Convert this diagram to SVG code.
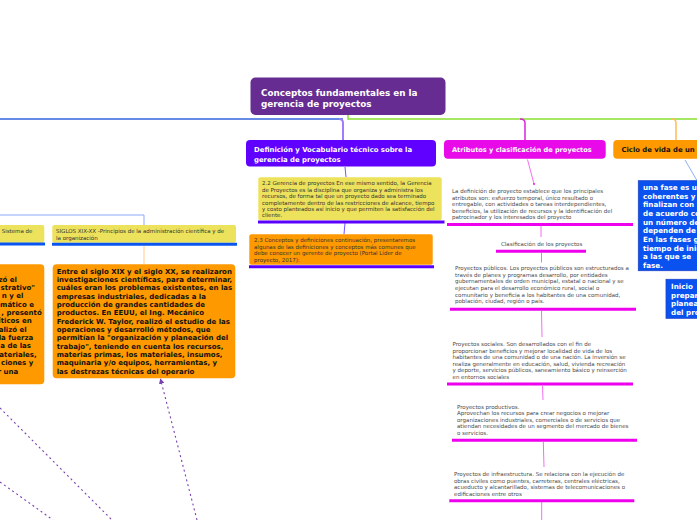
<svg xmlns="http://www.w3.org/2000/svg" width="697" height="520" viewBox="0 0 697 520">
<style>
text{font-family:"DejaVu Sans","Verdana",sans-serif}
.tb{font-weight:bold;fill:#fff}
.tk{font-weight:bold;fill:#111}
.sm{font-size:5.5px;fill:#333}
.gr{font-size:5.5px;fill:#4a4a4a}
.big{font-size:7px;font-weight:bold;fill:#111}
.ul-m{stroke:#ee00ee;stroke-width:3;fill:none}
.ul-v{stroke:#5a00ff;stroke-width:3;fill:none}
.ul-b{stroke:#0a55f0;stroke-width:3;fill:none}
.c-m{stroke:#f070f0;stroke-width:1;fill:none}
.dash{stroke:#7a3fb0;stroke-width:1.1;stroke-dasharray:2 3;fill:none}
</style>
<defs>
<marker id="ah" viewBox="0 0 6 6" refX="3" refY="3" markerWidth="5" markerHeight="5" orient="auto-start-reverse">
<path d="M0,0 L6,3 L0,6 z" fill="#7a3fb0"/>
</marker>
</defs>
<rect width="697" height="520" fill="#fff"/>

<g id="connectors">
<path d="M0,119 H343" stroke="#3563dc" stroke-width="1.5" fill="none"/>
<path d="M348,115 V119 H697" stroke="#88e030" stroke-width="1.5" fill="none"/>
<path d="M339,119 Q343,119 343,123 V140" stroke="#a07aff" stroke-width="2" fill="none"/>
<path d="M520,119 Q525,119 525,123 V140" stroke="#dd22dd" stroke-width="1.5" fill="none"/>
<path d="M672,119 Q676,119 676,123 V140" stroke="#ffbb55" stroke-width="1.5" fill="none"/>
<path d="M345,167 L346,177" stroke="#7a50ff" stroke-width="1" fill="none"/>
<path d="M345,223 L344,234" stroke="#7a50ff" stroke-width="1" fill="none"/>
<path d="M527.5,159.5 L534,184" class="c-m"/>
<circle cx="534" cy="184" r="0.9" fill="#ee00ee"/>
<path d="M541,226 V237" class="c-m"/>
<path d="M541.5,253 V262.5" class="c-m"/>
<path d="M541.5,311 L542,337" class="c-m"/>
<path d="M542.5,386 L543,400" class="c-m"/>
<path d="M543.3,442 L544,467" class="c-m"/>
<path d="M541.7,502 V520" class="c-m"/>
<path d="M685,160 L699,184" stroke="#8ab0f5" stroke-width="1" fill="none"/>
<path d="M0,215 H144 V225" stroke="#8aaaf5" stroke-width="1" fill="none"/>
<path d="M144,246 V264" stroke="#ffcc88" stroke-width="1" fill="none"/>
<path d="M197,520 L161,381" class="dash" marker-end="url(#ah)"/>
<path d="M0,408 L112,520" class="dash"/>
<path d="M0,482 L53,520" class="dash"/>
</g>

<g id="root">
<rect x="250.5" y="77.5" width="195" height="37.5" rx="5" fill="#672c91"/>
<text class="tb" font-size="8.8" x="261" y="96">Conceptos fundamentales en la</text>
<text class="tb" font-size="8.8" x="261" y="107">gerencia de proyectos</text>
</g>

<g id="definicion">
<rect x="246" y="140" width="190" height="26.5" rx="4" fill="#6000ff"/>
<text class="tb" font-size="6.9" x="254" y="152">Definición y Vocabulario técnico sobre la</text>
<text class="tb" font-size="6.9" x="254" y="162">gerencia de proyectos</text>
</g>

<g id="n22">
<rect x="258.3" y="177.3" width="183.4" height="43" rx="2" fill="#ede25c"/>
<path d="M258,222 H444.5" class="ul-v"/>
<text class="sm" x="262" y="185">2.2 Gerencia de proyectos En ese mismo sentido, la Gerencia</text>
<text class="sm" x="262" y="191.5">de Proyectos es la disciplina que organiza y administra los</text>
<text class="sm" x="262" y="198">recursos, de forma tal que un proyecto dado sea terminado</text>
<text class="sm" x="262" y="204.5">completamente dentro de las restricciones de alcance, tiempo</text>
<text class="sm" x="262" y="211">y costo planteados así inicio y que permiten la satisfacción del</text>
<text class="sm" x="262" y="217.3">cliente.</text>
</g>

<g id="n23">
<rect x="249.3" y="234.3" width="183.4" height="30.5" rx="2" fill="#ff9900"/>
<path d="M249,266.7 H434" class="ul-v"/>
<text class="sm" x="254" y="242">2.3 Conceptos y definiciones continuación, presentaremos</text>
<text class="sm" x="254" y="248.5">algunas de las definiciones y conceptos más comunes que</text>
<text class="sm" x="254" y="255">debe conocer un gerente de proyecto (Portal Líder de</text>
<text class="sm" x="254" y="261.5">proyecto, 2017):</text>
</g>

<g id="atributos">
<rect x="444" y="140" width="161.7" height="18.7" rx="4" fill="#e80ae8"/>
<text class="tb" font-size="6.6" x="452" y="152">Atributos y clasificación de proyectos</text>
</g>

<g id="definicion-proyecto">
<text class="gr" x="452" y="193">La definición de proyecto establece que los principales</text>
<text class="gr" x="452" y="199.5">atributos son: esfuerzo temporal, único resultado o</text>
<text class="gr" x="452" y="206">entregable, con actividades o tareas interdependientes,</text>
<text class="gr" x="452" y="212.5">beneficios, la utilización de recursos y la identificación del</text>
<text class="gr" x="452" y="219">patrocinador y los interesados del proyecto</text>
<path d="M447,224.5 H633" class="ul-m"/>
</g>

<g id="clasificacion">
<text class="gr" x="501" y="246">Clasificación de los proyectos</text>
<path d="M496,251.3 H586" class="ul-m"/>
</g>

<g id="publicos">
<text class="gr" x="455" y="270">Proyectos públicos. Los proyectos públicos son estructurados a</text>
<text class="gr" x="455" y="276.7">través de planes y programas desarrollo, por entidades</text>
<text class="gr" x="455" y="283.4">gubernamentales de orden municipal, estatal o nacional y se</text>
<text class="gr" x="455" y="290">ejecutan para el desarrollo económico rural, social o</text>
<text class="gr" x="455" y="296.7">comunitario y beneficia a los habitantes de una comunidad,</text>
<text class="gr" x="455" y="303.4">población, ciudad, región o país.</text>
<path d="M450,309.3 H636" class="ul-m"/>
</g>

<g id="sociales">
<text class="gr" x="452.5" y="346">Proyectos sociales. Son desarrollados con el fin de</text>
<text class="gr" x="452.5" y="352.5">proporcionar beneficios y mejorar localidad de vida de los</text>
<text class="gr" x="452.5" y="359">habitantes de una comunidad o de una nación. La inversión se</text>
<text class="gr" x="452.5" y="365.5">realiza generalmente en educación, salud, vivienda recreación</text>
<text class="gr" x="452.5" y="372">y deporte, servicios públicos, saneamiento básico y reinserción</text>
<text class="gr" x="452.5" y="378.5">en entornos sociales</text>
<path d="M447,384 H633" class="ul-m"/>
</g>

<g id="productivos">
<text class="gr" x="457" y="408.5">Proyectos productivos.</text>
<text class="gr" x="457" y="415">Aprovechan los recursos para crear negocios o mejorar</text>
<text class="gr" x="457" y="421.5">organizaciones industriales, comerciales o de servicios que</text>
<text class="gr" x="457" y="428">atiendan necesidades de un segmento del mercado de bienes</text>
<text class="gr" x="457" y="434.5">o servicios.</text>
<path d="M452,440.3 H637" class="ul-m"/>
</g>

<g id="infraestructura">
<text class="gr" x="454" y="476">Proyectos de infraestructura. Se relaciona con la ejecución de</text>
<text class="gr" x="454" y="482.5">obras civiles como puentes, carreteras, centrales eléctricas,</text>
<text class="gr" x="454" y="489">acueducto y alcantarillado, sistemas de telecomunicaciones o</text>
<text class="gr" x="454" y="495.5">edificaciones entre otros</text>
<path d="M449.3,500.7 H634.3" class="ul-m"/>
</g>

<g id="ciclo">
<rect x="613.3" y="140" width="90" height="18.7" rx="4" fill="#ff9900"/>
<text class="tk" font-size="6.85" x="621.5" y="152">Ciclo de vida de un</text>
</g>

<g id="fase">
<rect x="638.3" y="180.7" width="65" height="90" fill="#0a52f0" stroke="#1d44c8" stroke-width="0.8"/>
<text class="tb" font-size="7.2" x="643" y="190">una fase es un</text>
<text class="tb" font-size="7.2" x="643" y="198.7">coherentes y</text>
<text class="tb" font-size="7.2" x="643" y="207.4">finalizan con u</text>
<text class="tb" font-size="7.2" x="643" y="216">de acuerdo co</text>
<text class="tb" font-size="7.2" x="643" y="224.7">un número de</text>
<text class="tb" font-size="7.2" x="643" y="233.4">dependen de l</text>
<text class="tb" font-size="7.2" x="643" y="242">En las fases g</text>
<text class="tb" font-size="7.2" x="643" y="250.7">tiempo de inic</text>
<text class="tb" font-size="7.2" x="643" y="259.4">a las que se</text>
<text class="tb" font-size="7.2" x="643" y="268">fase.</text>
</g>

<g id="inicio">
<rect x="666" y="279.3" width="40" height="39" fill="#0a52f0" stroke="#1d44c8" stroke-width="0.8"/>
<text class="tb" font-size="7.2" x="671" y="289">Inicio</text>
<text class="tb" font-size="7.2" x="671" y="297.7">prepar</text>
<text class="tb" font-size="7.2" x="671" y="306.4">planea</text>
<text class="tb" font-size="7.2" x="671" y="315">del pro</text>
</g>

<g id="sistema">
<rect x="-5" y="225" width="49.3" height="17.7" rx="2" fill="#ede25c"/>
<path d="M0,244 H45" class="ul-b"/>
<text class="sm" x="1.7" y="232.5">Sistema de</text>
</g>

<g id="siglos">
<rect x="52.3" y="225" width="183.7" height="17.7" rx="2" fill="#ede25c"/>
<path d="M52,244.3 H237" class="ul-b"/>
<text class="sm" x="56" y="232.5">SIGLOS XIX-XX -Principios de la administración científica y de</text>
<text class="sm" x="56" y="240">la organización</text>
</g>

<g id="taylor">
<rect x="52.7" y="264.3" width="182.6" height="114" rx="4" fill="#ff9900"/>
<text class="big" x="56.7" y="273.5">Entre el siglo XIX y el siglo XX, se realizaron</text>
<text class="big" x="56.7" y="281.8">investigaciones científicas, para determinar,</text>
<text class="big" x="56.7" y="290.2">cuáles eran los problemas existentes, en las</text>
<text class="big" x="56.7" y="298.5">empresas industriales, dedicadas a la</text>
<text class="big" x="56.7" y="306.8">producción de grandes cantidades de</text>
<text class="big" x="56.7" y="315.2">productos. En EEUU, el Ing. Mecánico</text>
<text class="big" x="56.7" y="323.5">Frederick W. Taylor, realizó el estudio de las</text>
<text class="big" x="56.7" y="331.8">operaciones y desarrolló métodos, que</text>
<text class="big" x="56.7" y="340.2">permitían la "organización y planeación del</text>
<text class="big" x="56.7" y="348.5">trabajo", teniendo en cuenta los recursos,</text>
<text class="big" x="56.7" y="356.8">materias primas, los materiales, insumos,</text>
<text class="big" x="56.7" y="365.2">maquinaria y/o equipos, herramientas, y</text>
<text class="big" x="56.7" y="374">las destrezas técnicas del operario</text>
</g>

<g id="fayol">
<rect x="-6" y="264.3" width="50.3" height="120" rx="4" fill="#ff9900"/>
<g class="big" text-anchor="end">
<text x="17" y="281.5">zó el</text>
<text x="35" y="289.8">strativo"</text>
<text x="23.3" y="298.2">n y el</text>
<text x="34" y="306.5">mático e</text>
<text x="41.7" y="314.8">, presentó</text>
<text x="31.7" y="323.2">íticos en</text>
<text x="26.7" y="331.5">alizó el</text>
<text x="33.3" y="339.8">la fuerza</text>
<text x="31" y="348.2">a de las</text>
<text x="36.7" y="356.5">nateriales,</text>
<text x="33.3" y="364.8">ciones y</text>
<text x="18.3" y="374">r una</text>
</g>
</g>
</svg>
